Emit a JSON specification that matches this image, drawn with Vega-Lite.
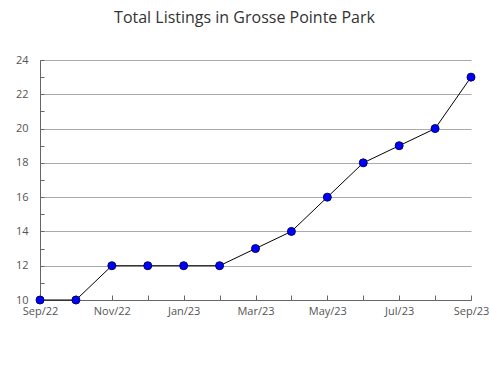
{
  "$schema": "https://vega.github.io/schema/vega-lite/v6.json",
  "autosize": "none",
  "width": 431,
  "height": 240,
  "padding": {"left": 40, "top": 60, "right": 19, "bottom": 80},
  "background": "white",
  "title": {"text": "Total Listings in Grosse Pointe Park", "font": "Open Sans", "fontSize": 16, "fontWeight": "normal", "color": "#333333", "anchor": "middle", "offset": 28, "dx": -11},
  "config": {"view": {"stroke": null}, "font": "Open Sans"},
  "data": {"values": [
    {"month": "Sep/22", "listings": 10},
    {"month": "Oct/22", "listings": 10},
    {"month": "Nov/22", "listings": 12},
    {"month": "Dec/22", "listings": 12},
    {"month": "Jan/23", "listings": 12},
    {"month": "Feb/23", "listings": 12},
    {"month": "Mar/23", "listings": 13},
    {"month": "Apr/23", "listings": 14},
    {"month": "May/23", "listings": 16},
    {"month": "Jun/23", "listings": 18},
    {"month": "Jul/23", "listings": 19},
    {"month": "Aug/23", "listings": 20},
    {"month": "Sep/23", "listings": 23}
  ]},
  "encoding": {
    "x": {"field": "month", "type": "ordinal", "sort": null, "scale": {"type": "point", "padding": 0},
      "axis": {"title": null, "labelAngle": 0, "labelFontSize": 11, "labelColor": "#555555", "labelPadding": 10, "tickSize": -5, "tickColor": "#666666", "domainColor": "#666666", "grid": false,
        "labelExpr": "test(/^(Oct|Dec|Feb|Apr|Jun|Aug)/, datum.value) ? '' : datum.label"}},
    "y": {"field": "listings", "type": "quantitative", "scale": {"domain": [10, 24], "nice": false, "zero": false},
      "axis": {"title": null, "values": [10,11,12,13,14,15,16,17,18,19,20,21,22,23,24], "labelFontSize": 11, "labelColor": "#555555", "labelPadding": 16, "tickSize": -4, "tickColor": "#666666", "domainColor": "#666666",
        "labelExpr": "datum.value % 2 == 0 ? datum.label : ''",
        "grid": true, "gridColor": "#aaaaaa",
        "gridOpacity": {"condition": {"test": "datum.value % 2 == 0", "value": 1}, "value": 0}}}
  },
  "layer": [
    {"mark": {"type": "line", "color": "black", "strokeWidth": 1}},
    {"mark": {"type": "point", "shape": "circle", "filled": true, "fill": "#0000ff", "stroke": "#000066", "strokeWidth": 1, "size": 64, "opacity": 1}}
  ]
}
